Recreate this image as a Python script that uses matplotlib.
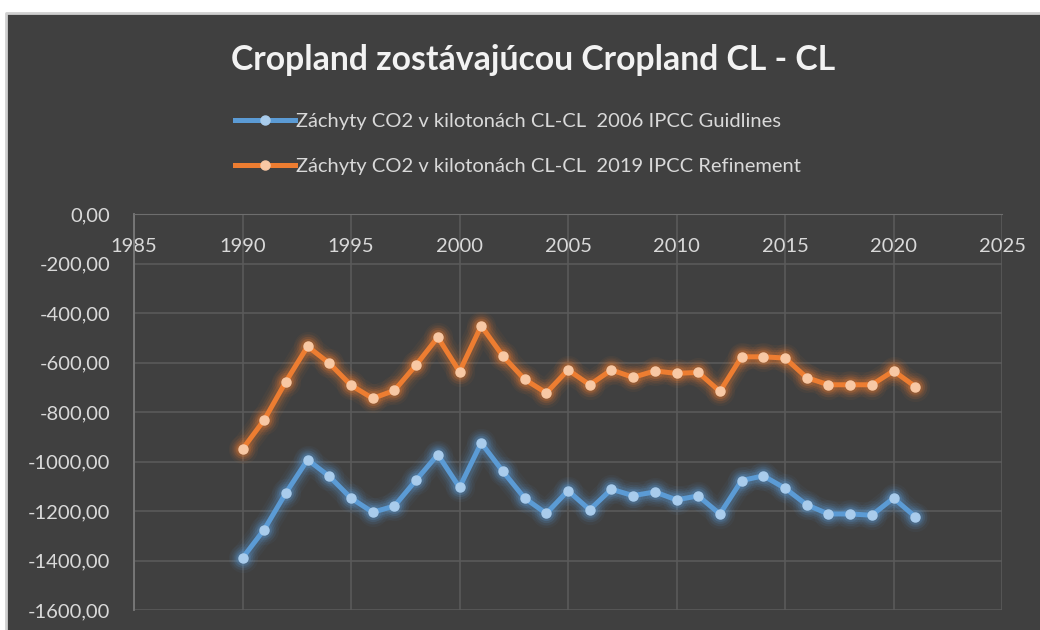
import numpy as np
import matplotlib.pyplot as plt
from matplotlib.patches import Rectangle
from matplotlib.lines import Line2D

plt.rcParams['font.family'] = ['Lato', 'DejaVu Sans']

years = list(range(1990, 2022))
guidelines_2006 = [-1390, -1275, -1127, -993, -1060, -1148, -1205, -1180, -1075, -972,
                   -1105, -925, -1040, -1148, -1210, -1118, -1195, -1112, -1138, -1123,
                   -1155, -1139, -1212, -1077, -1058, -1108, -1175, -1212, -1212, -1217,
                   -1148, -1223]
refinement_2019 = [-950, -832, -677, -535, -603, -692, -745, -713, -610, -498,
                   -637, -452, -574, -668, -723, -630, -690, -630, -660, -634,
                   -644, -640, -717, -577, -577, -582, -661, -690, -690, -690,
                   -634, -697]

title = "Cropland zostávajúcou Cropland CL - CL"
label1 = "Záchyty CO2 v kilotonách CL-CL  2006 IPCC Guidlines"
label2 = "Záchyty CO2 v kilotonách CL-CL  2019 IPCC Refinement"
xticks = [1985, 1990, 1995, 2000, 2005, 2010, 2015, 2020, 2025]
yticks = [0, -200, -400, -600, -800, -1000, -1200, -1400, -1600]

bg = '#404040'
txt = '#D9D9D9'
grid = '#5A5A5A'

fig = plt.figure(figsize=(10.4, 6.3), dpi=100, facecolor='white')
# dark chart area; light border only on the left and top edges
x0, y1 = 6/1040, 1 - 13/630
fig.add_artist(Rectangle((x0, 0), 1 - x0, y1, transform=fig.transFigure,
                         facecolor=bg, edgecolor='none', zorder=-10))
fig.add_artist(Line2D([x0, x0, 1], [0, y1, y1], transform=fig.transFigure,
                      color='#D0D0D0', lw=2, zorder=-9))

ax = fig.add_axes([134/1040, 1 - 610/630, 868/1040, 396/630])
ax.set_facecolor(bg)

def glow_line(x, y, color, marker_face, label):
    for lw, a in [(18, 0.05), (14, 0.07), (11, 0.10), (8, 0.16)]:
        ax.plot(x, y, color=color, lw=lw, alpha=a, solid_capstyle='round', zorder=2)
        ax.plot(x, y, 'o', color=color, ms=lw + 3, alpha=a, zorder=2, mec='none')
    ax.plot(x, y, color=color, lw=3.6, marker='o', ms=6.5, mfc=marker_face,
            mec=marker_face, zorder=3, label=label)

glow_line(years, guidelines_2006, '#5B9BD5', '#A9CCEC', label1)
glow_line(years, refinement_2019, '#ED7D31', '#F8C8A4', label2)

ax.set_xlim(1985, 2025)
ax.set_ylim(-1600, 0)
ax.set_xticks(xticks)
ax.set_yticks(yticks)
ax.set_yticklabels([f"{v:.2f}".replace('.', ',') for v in yticks])
ax.grid(True, color=grid, linewidth=1.2)
ax.set_axisbelow(True)

for s in ['right', 'top']:
    ax.spines[s].set_visible(False)
ax.spines['bottom'].set_position(('data', 0))
ax.spines['bottom'].set_color('#6E6E6E')
ax.spines['left'].set_color('#7A7A7A')
ax.spines['left'].set_linewidth(1.3)
ax.tick_params(axis='x', length=0, pad=17, labelsize=14.5, labelcolor=txt)
ax.tick_params(axis='y', length=0, pad=17, labelsize=14.5, labelcolor=txt)

fig.text(533/1040, 1 - 60/630, title, ha='center', va='center', fontsize=24.3,
         fontweight='bold', color='#F2F2F2')

leg = fig.legend(loc='center', bbox_to_anchor=(518/1040, 1 - 144/630), ncol=1,
                 frameon=False, fontsize=14.5, labelcolor=txt, handlelength=3.0,
                 handletextpad=0.05, labelspacing=1.35)

fig.savefig('out.png', dpi=100, facecolor='white')
